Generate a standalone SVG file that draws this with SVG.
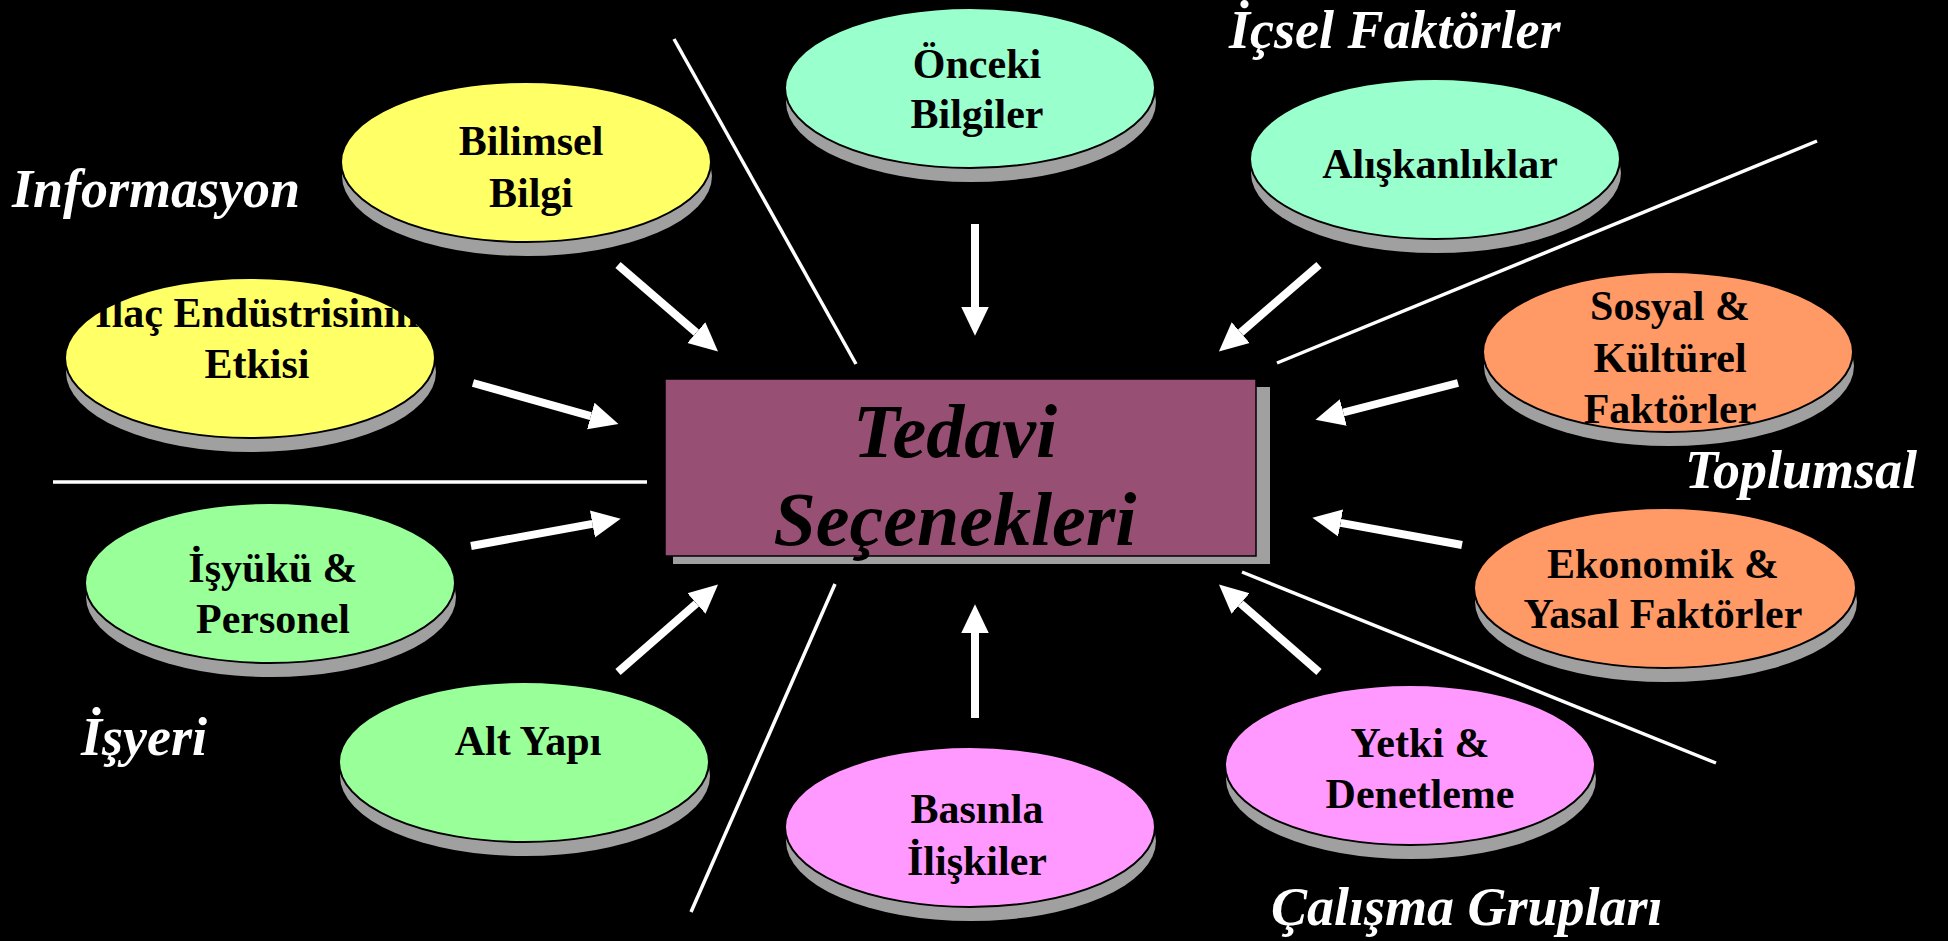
<svg xmlns="http://www.w3.org/2000/svg" width="1948" height="941" viewBox="0 0 1948 941">
<defs>
<style>
.bg{fill:#000}
.sh{fill:#a0a0a0}
.el{stroke:#000;stroke-width:2}
.y{fill:#ffff66}.m{fill:#99ffcc}.o{fill:#ff9966}.g{fill:#99ff99}.p{fill:#ff99ff}
.t{font-family:"Liberation Serif","Times New Roman",serif;font-weight:bold;font-size:42px;fill:#000;text-anchor:middle}
.lbl{font-family:"Liberation Serif","Times New Roman",serif;font-weight:bold;font-style:italic;font-size:54px;fill:#fff}
.sep{stroke:#fff;stroke-width:3.5;fill:none}
.arr{stroke:#fff;stroke-width:8;fill:none;marker-end:url(#ah)}
.ct{font-family:"Liberation Serif","Times New Roman",serif;font-weight:bold;font-style:italic;font-size:76px;fill:#000;text-anchor:middle}
</style>
<marker id="ah" markerUnits="userSpaceOnUse" markerWidth="30" markerHeight="30" viewBox="0 -12 24 24" refX="0" refY="0" orient="auto">
<path d="M0,-11 L23,0 L0,11 z" fill="#fff"/>
</marker>
</defs>
<rect class="bg" x="0" y="0" width="1948" height="941"/>

<g id="connectors">
<line class="sep" x1="674" y1="39" x2="856" y2="364"/>
<line class="sep" x1="1817" y1="141" x2="1277" y2="363"/>
<line class="sep" x1="53" y1="482" x2="647" y2="482"/>
<line class="sep" x1="835" y1="584" x2="691" y2="912"/>
<line class="sep" x1="1242" y1="572" x2="1716" y2="763"/>
<line class="arr" x1="618" y1="265" x2="696.3" y2="332.6"/>
<line class="arr" x1="473" y1="383" x2="590.8" y2="416.1"/>
<line class="arr" x1="975" y1="224" x2="975" y2="307"/>
<line class="arr" x1="1319" y1="265" x2="1240.7" y2="332.6"/>
<line class="arr" x1="1458" y1="383" x2="1343.3" y2="412.5"/>
<line class="arr" x1="471" y1="546" x2="592.4" y2="523.9"/>
<line class="arr" x1="618" y1="672" x2="696.4" y2="603.5"/>
<line class="arr" x1="975" y1="718" x2="975" y2="633"/>
<line class="arr" x1="1319" y1="672" x2="1240.6" y2="603.5"/>
<line class="arr" x1="1462" y1="545" x2="1340.6" y2="522.9"/>
</g>

<g id="center">
<rect class="sh" x="673" y="387" width="597" height="177"/>
<rect x="665" y="379" width="591" height="177" fill="#975073" stroke="#000" stroke-width="1.5"/>
<text class="ct" x="955" y="457">Tedavi</text>
<text class="ct" x="955" y="545">Seçenekleri</text>
</g>

<g id="bilimsel">
<ellipse class="sh" cx="527" cy="176" rx="185" ry="80"/>
<ellipse class="el y" cx="526" cy="162" rx="185" ry="80"/>
<text class="t" x="531" y="155">Bilimsel</text>
<text class="t" x="531" y="207">Bilgi</text>
</g>

<g id="ilac">
<ellipse class="sh" cx="251" cy="372" rx="185" ry="80"/>
<ellipse class="el y" cx="250" cy="358" rx="185" ry="80"/>
<text class="t" x="257" y="327">İlaç Endüstrisinin</text>
<text class="t" x="257" y="378">Etkisi</text>
</g>

<g id="onceki">
<ellipse class="sh" cx="971" cy="102" rx="185" ry="80"/>
<ellipse class="el m" cx="970" cy="88" rx="185" ry="80"/>
<text class="t" x="977" y="78">Önceki</text>
<text class="t" x="977" y="128">Bilgiler</text>
</g>

<g id="aliskanliklar">
<ellipse class="sh" cx="1436" cy="173" rx="185" ry="80"/>
<ellipse class="el m" cx="1435" cy="159" rx="185" ry="80"/>
<text class="t" x="1440" y="178">Alışkanlıklar</text>
</g>

<g id="sosyal">
<ellipse class="sh" cx="1669" cy="366" rx="185" ry="80"/>
<ellipse class="el o" cx="1668" cy="352" rx="185" ry="80"/>
<text class="t" x="1670" y="320">Sosyal &amp;</text>
<text class="t" x="1670" y="372">Kültürel</text>
<text class="t" x="1670" y="423">Faktörler</text>
</g>

<g id="isyuku">
<ellipse class="sh" cx="271" cy="597" rx="185" ry="80"/>
<ellipse class="el g" cx="270" cy="583" rx="185" ry="80"/>
<text class="t" x="273" y="582">İşyükü &amp;</text>
<text class="t" x="273" y="633">Personel</text>
</g>

<g id="altyapi">
<ellipse class="sh" cx="525" cy="776" rx="185" ry="80"/>
<ellipse class="el g" cx="524" cy="762" rx="185" ry="80"/>
<text class="t" x="528" y="755">Alt Yapı</text>
</g>

<g id="basinla">
<ellipse class="sh" cx="971" cy="841" rx="185" ry="80"/>
<ellipse class="el p" cx="970" cy="827" rx="185" ry="80"/>
<text class="t" x="977" y="823">Basınla</text>
<text class="t" x="977" y="875">İlişkiler</text>
</g>

<g id="yetki">
<ellipse class="sh" cx="1411" cy="779" rx="185" ry="80"/>
<ellipse class="el p" cx="1410" cy="765" rx="185" ry="80"/>
<text class="t" x="1420" y="757">Yetki &amp;</text>
<text class="t" x="1420" y="808">Denetleme</text>
</g>

<g id="ekonomik">
<ellipse class="sh" cx="1666" cy="602" rx="191" ry="80"/>
<ellipse class="el o" cx="1665" cy="588" rx="191" ry="80"/>
<text class="t" x="1663" y="578">Ekonomik &amp;</text>
<text class="t" x="1663" y="628">Yasal Faktörler</text>
</g>

<g id="labels">
<text class="lbl" x="12" y="207">Informasyon</text>
<text class="lbl" x="1229" y="48">İçsel Faktörler</text>
<text class="lbl" x="1685" y="488">Toplumsal</text>
<text class="lbl" x="81" y="755">İşyeri</text>
<text class="lbl" x="1271" y="925">Çalışma Grupları</text>
</g>
</svg>
